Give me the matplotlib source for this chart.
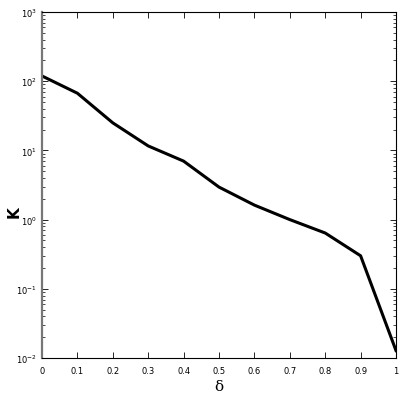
import matplotlib
matplotlib.use('Agg')
import matplotlib.pyplot as plt
import numpy as np

# Data
delta = [0.0, 0.1, 0.2, 0.3, 0.4, 0.5, 0.6, 0.7, 0.8, 0.9, 1.0]
K = [119, 67, 25, 11.6, 7.0, 2.95, 1.62, 1.0, 0.64, 0.30, 0.0128]

x_ticks = [0, 0.1, 0.2, 0.3, 0.4, 0.5, 0.6, 0.7, 0.8, 0.9, 1]
x_tick_labels = ['0', '0.1', '0.2', '0.3', '0.4', '0.5', '0.6', '0.7', '0.8', '0.9', '1']

fig = plt.figure(figsize=(4.02, 4.02), dpi=100)
ax = fig.add_axes([42/402, 1 - 359/402, 354/402, 346/402])

ax.semilogy(delta, K, color='black', linewidth=2.2)

ax.set_xlim(0, 1)
ax.set_ylim(1e-2, 1e3)
ax.set_xticks(x_ticks)
ax.set_xticklabels(x_tick_labels)

ax.tick_params(which='both', direction='in', top=True, right=True, labelsize=6)
ax.tick_params(which='major', length=4, width=0.6)
ax.tick_params(which='minor', length=2, width=0.5)
ax.tick_params(axis='x', pad=6)

for side in ['top', 'right', 'bottom']:
    ax.spines[side].set_linewidth(0.8)
ax.spines['left'].set_linewidth(1.6)
ax.spines['left'].set_color('#777777')

ax.set_xlabel('δ', fontsize=11, family='DejaVu Serif', labelpad=3)
fig.text(14/402, 1 - 212/402, 'K', fontsize=11, fontweight='bold',
         rotation=90, ha='center', va='center')

fig.savefig('out.png', dpi=100)
